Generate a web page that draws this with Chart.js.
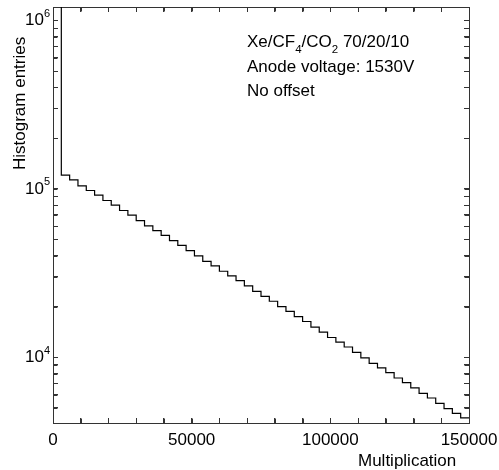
<!DOCTYPE html>
<html>
<head>
<meta charset="utf-8">
<script src="https://cdn.jsdelivr.net/npm/chart.js@4.4.1/dist/chart.umd.min.js"></script>
<style>
  html, body { margin: 0; padding: 0; background: #fff; }
</style>
</head>
<body>
<canvas id="histChart" width="499" height="470"></canvas>
<script>
// Histogram bins: left edge of each 3000-wide bin, last bin ends at 150000
const binEdges = [
    0, 3000, 6000, 9000, 12000, 15000, 18000, 21000, 24000, 27000,
    30000, 33000, 36000, 39000, 42000, 45000, 48000, 51000, 54000, 57000,
    60000, 63000, 66000, 69000, 72000, 75000, 78000, 81000, 84000, 87000,
    90000, 93000, 96000, 99000, 102000, 105000, 108000, 111000, 114000, 117000,
    120000, 123000, 126000, 129000, 132000, 135000, 138000, 141000, 144000, 147000
];
const binEnd = 150000;

// Entries per bin (first bin runs off the top of the plot)
const entries = [
    2500000, 120400, 113100, 104200, 97700, 91600, 85200, 79900, 74300, 69700,
    64800, 60300, 56500, 52900, 49300, 46200, 43000, 40000, 37100, 34900,
    32400, 30400, 28500, 26500, 24600, 23000, 21500, 20000, 18700, 17400,
    16300, 15100, 14100, 13100, 12300, 11500, 10700, 9900, 9200, 8640,
    8100, 7530, 7070, 6570, 6100, 5730, 5320, 4950, 4640, 4360
];

// Axis ranges and labels
const xMin = 0, xMax = 150000, xStep = 10000;
const xLabelValues = [0, 50000, 100000, 150000];
const yMin = 4070, yMax = 1200000;
const yDecades = [10000, 100000, 1000000];
const yExponents = ['4', '5', '6'];
const yMinorSteps = [1, 2, 3, 4, 5, 6, 7, 8, 9];
const xTitle = 'Multiplication';
const yTitle = 'Histogram entries';

// info text, [text, isSubscript]
const infoLines = [
    [['Xe/CF', false], ['4', true], ['/CO', false], ['2', true], [' 70/20/10', false]],
    [['Anode voltage: 1530V', false]],
    [['No offset', false]]
];

const fontFamily = '"Liberation Sans", Arial, Helvetica, sans-serif';
const axisColor = '#333';
const tickLen = 4.5;

const yTickValues = [];
[1000, 10000, 100000, 1000000].forEach(d => {
    yMinorSteps.forEach(s => {
        const v = s * d;
        if (v >= yMin && v <= yMax) yTickValues.push(v);
    });
});

const points = binEdges.map((x, i) => ({ x: x, y: entries[i] }));
points.push({ x: binEnd, y: entries[entries.length - 1] });

const innerGrid = {
    drawOnChartArea: false,
    drawTicks: true,
    tickLength: -5,
    color: axisColor,
    lineWidth: 1
};
const axisBorder = { display: true, color: axisColor, width: 1 };

const logTicks = scale => {
    scale.ticks = yTickValues.map(v => ({ value: v }));
};

// inward tick marks on all four sides, placed by each scale
const innerTicks = {
    id: 'innerTicks',
    afterDatasetsDraw(chart) {
        const ctx = chart.ctx;
        const a = chart.chartArea;
        ctx.save();
        ctx.strokeStyle = axisColor;
        ctx.lineWidth = 1;
        ctx.beginPath();
        Object.values(chart.scales).forEach(scale => {
            scale.ticks.forEach(t => {
                const p = Math.round(scale.getPixelForValue(t.value)) + 0.5;
                if (scale.position === 'bottom') {
                    ctx.moveTo(p, a.bottom); ctx.lineTo(p, a.bottom - tickLen);
                } else if (scale.position === 'top') {
                    ctx.moveTo(p, a.top); ctx.lineTo(p, a.top + tickLen);
                } else if (scale.position === 'left') {
                    ctx.moveTo(a.left, p); ctx.lineTo(a.left + tickLen, p);
                } else {
                    ctx.moveTo(a.right, p); ctx.lineTo(a.right - tickLen, p);
                }
            });
        });
        ctx.stroke();
        ctx.restore();
    }
};

// draws the decade labels, axis titles and the info block
const textPlugin = {
    id: 'histText',
    afterDraw(chart) {
        const ctx = chart.ctx;
        const yScale = chart.scales.y;
        ctx.save();
        ctx.fillStyle = '#000';
        ctx.textBaseline = 'alphabetic';

        yDecades.forEach((v, i) => {
            const py = yScale.getPixelForValue(v);
            ctx.font = '17px ' + fontFamily;
            ctx.textAlign = 'right';
            ctx.fillText('10', 44, py + 5);
            ctx.font = '11px ' + fontFamily;
            ctx.textAlign = 'left';
            ctx.fillText(yExponents[i], 44, py - 3.5);
        });

        ctx.font = '17px ' + fontFamily;
        ctx.textAlign = 'left';
        ctx.fillText(xTitle, 358, 466);

        ctx.save();
        ctx.translate(25, 170);
        ctx.rotate(-Math.PI / 2);
        ctx.fillText(yTitle, 0, 0);
        ctx.restore();

        let by = 47;
        infoLines.forEach(line => {
            let x = 247;
            line.forEach(([txt, sub]) => {
                ctx.font = (sub ? '11.5px ' : '17px ') + fontFamily;
                ctx.fillText(txt, x, sub ? by + 5.5 : by);
                x += ctx.measureText(txt).width;
            });
            by += 24.5;
        });
        ctx.restore();
    }
};

new Chart(document.getElementById('histChart'), {
    type: 'line',
    data: {
        datasets: [{
            data: points,
            xAxisID: 'x',
            yAxisID: 'y',
            stepped: 'before',
            borderColor: '#000',
            borderWidth: 1.2,
            pointRadius: 0,
            fill: false,
            tension: 0
        }]
    },
    options: {
        responsive: false,
        devicePixelRatio: 1,
        animation: false,
        layout: { padding: 0 },
        plugins: {
            legend: { display: false },
            tooltip: { enabled: false }
        },
        scales: {
            x: {
                type: 'linear',
                position: 'bottom',
                min: xMin,
                max: xMax,
                ticks: {
                    stepSize: xStep,
                    autoSkip: false,
                    maxRotation: 0,
                    padding: 12,
                    color: '#000',
                    font: { family: fontFamily, size: 17 },
                    callback: v => xLabelValues.includes(v) ? String(v) : ''
                },
                grid: innerGrid,
                border: axisBorder,
                afterFit: s => {
                    s.height = 47;
                    s.paddingLeft = 0;
                    s.paddingRight = 0;
                }
            },
            xTop: {
                type: 'linear',
                position: 'top',
                min: xMin,
                max: xMax,
                ticks: { stepSize: xStep, display: false },
                grid: innerGrid,
                border: axisBorder,
                afterFit: s => { s.height = 7; }
            },
            y: {
                type: 'logarithmic',
                position: 'left',
                min: yMin,
                max: yMax,
                afterBuildTicks: logTicks,
                ticks: { display: false },
                grid: innerGrid,
                border: axisBorder,
                afterFit: s => { s.width = 53; }
            },
            yRight: {
                type: 'logarithmic',
                position: 'right',
                min: yMin,
                max: yMax,
                afterBuildTicks: logTicks,
                ticks: { display: false },
                grid: innerGrid,
                border: axisBorder,
                afterFit: s => { s.width = 30; }
            }
        }
    },
    plugins: [innerTicks, textPlugin]
});
</script>
</body>
</html>
